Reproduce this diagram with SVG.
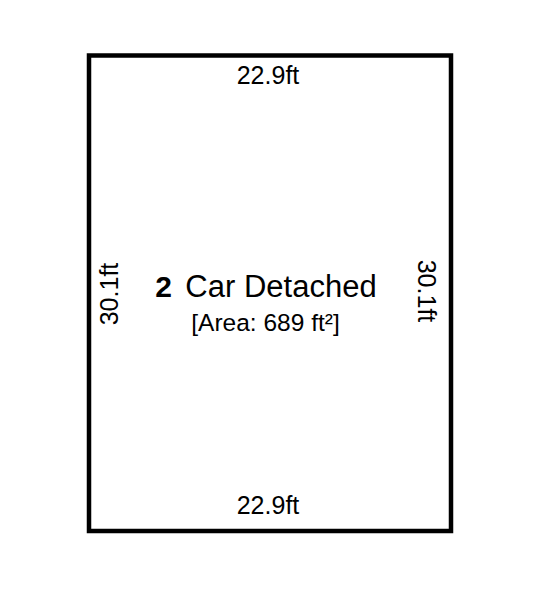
<svg xmlns="http://www.w3.org/2000/svg" width="534" height="600" viewBox="0 0 534 600">
<style>
.t{font-family:"Liberation Sans",Arial,sans-serif;fill:#000;text-anchor:middle}
.dim{font-size:25px}
</style>
<rect width="534" height="600" fill="#fff"/>
<g id="room">
<rect x="89" y="55.5" width="362" height="475.5" fill="none" stroke="#000" stroke-width="4.5"/>
</g>
<g id="labels">
<text class="t dim" x="268" y="84">22.9ft</text>
<text class="t dim" x="268" y="514">22.9ft</text>
<text class="t dim" transform="translate(118,294) rotate(-90)">30.1ft</text>
<text class="t dim" transform="translate(418,291) rotate(90)">30.1ft</text>
<text class="t" x="163.5" y="297" font-size="30" font-weight="bold">2</text>
<text class="t" x="281" y="297" font-size="31">Car Detached</text>
<text class="t" x="265.5" y="331" font-size="24.5">[Area: 689 ft²]</text>
</g>
</svg>
